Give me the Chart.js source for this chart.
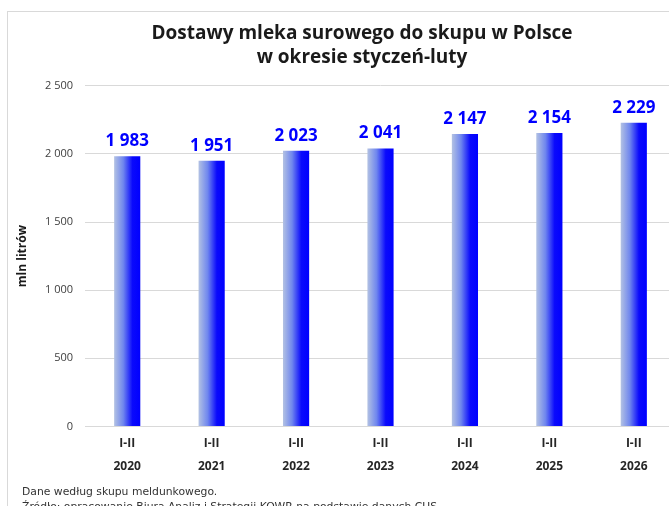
<!DOCTYPE html>
<html>
<head>
<meta charset="utf-8">
<script src="https://cdn.jsdelivr.net/npm/chart.js@4.4.1/dist/chart.umd.min.js"></script>
<style>
  html, body { margin: 0; padding: 0; background: #ffffff; overflow: hidden; width: 669px; height: 506px; }
  #frame { position: absolute; left: 7px; top: 11px; width: 720px; height: 520px; border: 1px solid #d9d9d9; background: #fff; }
  #wrap { position: absolute; left: 0px; top: 0px; width: 708px; height: 474px; }
  #foot { position: absolute; left: 14px; top: 472px; font-family: "DejaVu Sans", sans-serif; font-size: 10.8px; color: #333; line-height: 15px; white-space: nowrap; }
</style>
</head>
<body>
<div id="frame">
  <div id="wrap"><canvas id="c"></canvas></div>
  <div id="foot">Dane według skupu meldunkowego.<br>Źródło: opracowanie Biura Analiz i Strategii KOWR na podstawie danych CUS</div>
</div>
<script>
const periods = ["I-II", "I-II", "I-II", "I-II", "I-II", "I-II", "I-II"];
const years = ["2020", "2021", "2022", "2023", "2024", "2025", "2026"];
const deliveries = [1983, 1951, 2023, 2041, 2147, 2154, 2229];
const titleLines = ["Dostawy mleka surowego do skupu w Polsce", "w okresie styczeń-luty"];
const yAxisTitle = "mln litrów";

const labels = years.map((y, i) => [periods[i], y]);
const fmt = v => String(v).replace(/\B(?=(\d{3})+(?!\d))/g, " ");
const FONT = "'Open Sans', sans-serif";

const gradientBars = {
  id: "gradientBars",
  beforeDatasetsDraw(chart) {
    const ctx = chart.ctx;
    chart.getDatasetMeta(0).data.forEach(bar => {
      const left = bar.x - bar.width / 2, right = bar.x + bar.width / 2;
      const g = ctx.createLinearGradient(left, 0, right, 0);
      g.addColorStop(0, "#b3c2e3");
      g.addColorStop(0.35, "#6f86ee");
      g.addColorStop(0.7, "#0a0afc");
      g.addColorStop(1, "#0000ff");
      bar.options.backgroundColor = g;
    });
  }
};

const valueLabels = {
  id: "valueLabels",
  afterDatasetsDraw(chart) {
    const ctx = chart.ctx;
    ctx.save();
    ctx.font = "bold 17px " + FONT;
    ctx.fillStyle = "#0000ff";
    ctx.textAlign = "center";
    ctx.textBaseline = "middle";
    chart.getDatasetMeta(0).data.forEach((bar, i) => {
      ctx.fillText(fmt(deliveries[i]), bar.x, bar.y - 15);
    });
    ctx.restore();
  }
};

new Chart(document.getElementById("c"), {
  type: "bar",
  data: {
    labels: labels,
    datasets: [{
      data: deliveries,
      backgroundColor: () => "#0000ff",
      barPercentage: 0.62,
      categoryPercentage: 0.5
    }]
  },
  options: {
    responsive: true,
    maintainAspectRatio: false,
    animation: false,
    layout: { padding: { top: 0, right: 0, bottom: 10, left: 0 } },
    plugins: {
      legend: { display: false },
      tooltip: { enabled: false },
      title: {
        display: true,
        text: titleLines,
        color: "#1a1a1a",
        font: { family: FONT, size: 19, weight: "bold", lineHeight: 1.26 },
        padding: { top: 10, bottom: 16 }
      }
    },
    scales: {
      x: {
        grid: { display: false },
        border: { display: true, color: "#d9d9d9" },
        ticks: {
          color: "#262626",
          font: { family: FONT, size: 12, weight: "bold", lineHeight: 1.9 },
          padding: -2,
          maxRotation: 0
        }
      },
      y: {
        min: 0,
        max: 2500,
        grid: { color: "#d9d9d9", drawTicks: false },
        border: { display: false },
        ticks: {
          stepSize: 500,
          color: "#404040",
          font: { family: FONT, size: 11 },
          padding: 12,
          callback: v => fmt(v)
        },
        title: {
          display: true,
          text: yAxisTitle,
          color: "#1a1a1a",
          font: { family: FONT, size: 12, weight: "bold" },
          padding: { top: 7, bottom: 0 }
        },
        afterFit(scale) { scale.width = 77; }
      },
      yRight: {
        position: "right",
        display: true,
        grid: { display: false, drawTicks: false },
        border: { display: false },
        ticks: { display: false },
        afterFit(scale) { scale.width = 40; }
      }
    }
  },
  plugins: [gradientBars, valueLabels]
});
</script>
</body>
</html>
